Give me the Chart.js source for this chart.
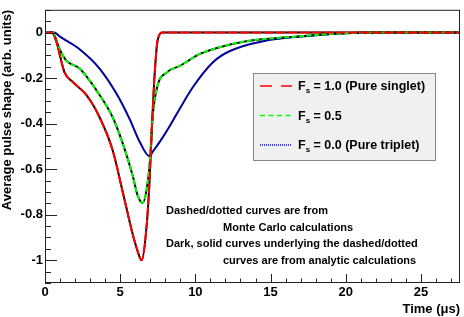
<!DOCTYPE html>
<html>
<head>
<meta charset="utf-8">
<script src="https://cdn.jsdelivr.net/npm/chart.js@4.4.1/dist/chart.umd.min.js"></script>
<style>
body{margin:0;background:#fff}
</style>
</head>
<body>
<canvas id="lienzo" width="464" height="317"></canvas>
<script>
// curves, time in us, shape in arb. units
const singletT = [0, 0.45, 0.85, 0.97, 1.3, 1.85, 2.75, 3.63, 4.5, 5.17, 5.83, 6.08, 6.43, 6.77, 6.97, 7.1, 7.3, 7.5, 7.83, 10, 15, 20, 25, 27.6]
const singletV = [0, 0, -0.06, -0.094, -0.175, -0.217, -0.274, -0.372, -0.517, -0.70, -0.885, -0.943, -1.0, -0.84, -0.63, -0.43, -0.175, -0.03, 0, 0, 0, 0, 0, 0]

const mixedT = [0, 0.5, 0.97, 1.43, 2.3, 3.63, 4.5, 5.17, 5.83, 6.16, 6.5, 6.83, 6.97, 7.17, 7.5, 8.1, 9.0, 10.3, 11.17, 13.4, 16.8, 19.6, 22, 27.6]
const mixedV = [0, 0, -0.073, -0.124, -0.158, -0.274, -0.372, -0.487, -0.628, -0.715, -0.748, -0.658, -0.57, -0.36, -0.23, -0.175, -0.145, -0.094, -0.073, -0.038, -0.017, -0.004, 0, 0]

const tripletT = [0, 0.63, 0.97, 2.3, 3.63, 4.77, 5.63, 6.3, 6.95, 7.2, 7.63, 8.3, 9.0, 9.83, 11.17, 12.3, 14.5, 17.83, 19.6, 22, 27.6]
const tripletV = [0, 0, -0.017, -0.073, -0.158, -0.27, -0.38, -0.48, -0.543, -0.52, -0.48, -0.41, -0.33, -0.24, -0.13, -0.081, -0.038, -0.013, -0.004, 0, 0]

const xTicks = [0, 5, 10, 15, 20, 25]
const yTicks = [0, -0.2, -0.4, -0.6, -0.8, -1]

const fsValues = ["1.0 (Pure singlet)", "0.5", "0.0 (Pure triplet)"]
const notas = ["Dashed/dotted curves are from", "Monte Carlo calculations",
    "Dark, solid curves underlying the dashed/dotted", "curves are from analytic calculations"]

const fuente = "'Liberation Sans', Arial, Helvetica, sans-serif"

function puntos(ts, vs) {
    return ts.map((t, i) => ({x: t, y: vs[i]}))
}

// frame and inward ticks like ROOT
const marco = {
    id: "marco",
    afterDatasetsDraw(chart) {
        const ctx = chart.ctx, a = chart.chartArea
        const xs = chart.scales.x, ys = chart.scales.y
        ctx.save()
        ctx.strokeStyle = "#222"
        ctx.lineWidth = 1
        ctx.beginPath()
        for (let i = 0; i <= Math.floor(xs.max); i++) {
            const px = Math.round(xs.getPixelForValue(i)) + 0.5
            const len = (i % 5 == 0) ? 9 : 4.5
            ctx.moveTo(px, a.bottom)
            ctx.lineTo(px, a.bottom - len)
        }
        for (let i = -22; i <= 2; i++) {
            const py = Math.round(ys.getPixelForValue(i * 0.05)) + 0.5
            const len = (i % 4 == 0) ? 12 : 6
            ctx.moveTo(a.left, py)
            ctx.lineTo(a.left + len, py)
        }
        ctx.stroke()
        ctx.strokeRect(a.left + 0.5, a.top + 0.5, a.right - a.left - 1, a.bottom - a.top - 1)
        ctx.restore()
    },
    afterDraw(chart) {
        const ctx = chart.ctx
        ctx.save()
        // legend box
        ctx.fillStyle = "#f0f0f0"
        ctx.fillRect(253.5, 73.5, 182, 87)
        ctx.strokeStyle = "#888"
        ctx.lineWidth = 1
        ctx.strokeRect(253.5, 73.5, 182, 87)
        const sets = chart.data.datasets.slice(0, 3)
        ctx.textBaseline = "alphabetic"
        sets.forEach((ds, i) => {
            const y = 86 + i * 29.5
            ctx.save()
            ctx.strokeStyle = ds.borderColor
            ctx.lineWidth = 1.5
            ctx.setLineDash(ds.legendDash)
            ctx.beginPath()
            ctx.moveTo(260, y)
            ctx.lineTo(292, y)
            ctx.stroke()
            ctx.restore()
            ctx.fillStyle = "#000"
            let x = 298
            ctx.font = "bold 12.5px " + fuente
            ctx.fillText("F", x, y + 4)
            x += ctx.measureText("F").width
            ctx.font = "bold 8px " + fuente
            ctx.fillText("s", x, y + 7)
            x += ctx.measureText("s").width
            ctx.font = "bold 12.5px " + fuente
            ctx.fillText(" = " + fsValues[i], x, y + 4)
        })
        // notes
        ctx.font = "bold 11px " + fuente
        ctx.fillStyle = "#000"
        const xn = [166, 223, 166, 223]
        notas.forEach((t, i) => {
            ctx.fillText(t, xn[i], 214 + i * 16.7)
        })
        ctx.restore()
    }
}

const ctx = document.getElementById("lienzo")
// chart.js paints dataset 0 last, so the dashed Monte Carlo curves go first
new Chart(ctx, {
    type: "line",
    data: {
        datasets: [
            {data: puntos(singletT, singletV), borderColor: "#ff0000", borderWidth: 2, borderDash: [10, 2], legendDash: [12, 9]},
            {data: puntos(mixedT, mixedV), borderColor: "#00ff00", borderWidth: 2, borderDash: [5, 2.5], legendDash: [5, 3.5]},
            {data: puntos(tripletT, tripletV), borderColor: "#0000ff", borderWidth: 1.2, borderDash: [1, 2], legendDash: [1, 1]},
            {data: puntos(singletT, singletV), borderColor: "#000", borderWidth: 2},
            {data: puntos(mixedT, mixedV), borderColor: "#000", borderWidth: 2},
            {data: puntos(tripletT, tripletV), borderColor: "#000080", borderWidth: 2}
        ]
    },
    options: {
        responsive: false,
        devicePixelRatio: 1,
        animation: false,
        layout: {padding: {top: 3, right: 4, left: 0, bottom: 0}},
        elements: {
            point: {radius: 0},
            line: {cubicInterpolationMode: "monotone", fill: false}
        },
        plugins: {legend: {display: false}, tooltip: {enabled: false}},
        scales: {
            x: {
                type: "linear",
                min: 0, max: 27.6,
                grid: {display: false, drawTicks: false},
                border: {display: false},
                ticks: {padding: 2, color: "#000",
                    font: {family: fuente, size: 13, weight: "bold"}},
                afterBuildTicks(s) { s.ticks = xTicks.map(v => ({value: v})) },
                title: {display: true, text: "Time (μs)", align: "end", color: "#000", padding: 0,
                    font: {family: fuente, size: 13, weight: "bold"}},
                afterFit(s) { s.height = 34 }
            },
            y: {
                min: -1.1, max: 0.1,
                grid: {display: false, drawTicks: false},
                border: {display: false},
                ticks: {padding: 2, color: "#000",
                    font: {family: fuente, size: 13, weight: "bold"},
                    callback: v => String(Math.round(v * 10) / 10)},
                afterBuildTicks(s) { s.ticks = yTicks.map(v => ({value: v})) },
                title: {display: true, text: "Average pulse shape (arb. units)", align: "end", color: "#000", padding: 0,
                    font: {family: fuente, size: 13, weight: "bold"}},
                afterFit(s) { s.width = 45 }
            }
        }
    },
    plugins: [marco]
})
</script>
</body>
</html>
